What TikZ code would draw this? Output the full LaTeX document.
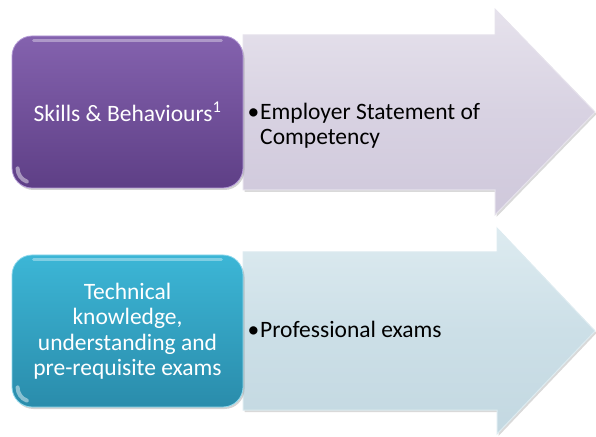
\documentclass[tikz,border=0pt]{standalone}
\usepackage{fontspec}
\setmainfont{Carlito}
\usetikzlibrary{shadows}
\definecolor{purpTop}{HTML}{8462AE}
\definecolor{purpBot}{HTML}{5E3F86}
\definecolor{purpHi}{HTML}{B39AD6}
\definecolor{tealTop}{HTML}{3CB6D6}
\definecolor{tealBot}{HTML}{2A8CAB}
\definecolor{tealHi}{HTML}{8FD8EC}
\definecolor{arrA}{HTML}{D8D2E2}
\definecolor{arrAb}{HTML}{CFC8DB}
\definecolor{arrAe}{HTML}{E6E2EC}
\definecolor{arrB}{HTML}{CCDFE7}
\definecolor{arrBb}{HTML}{C3D8E1}
\definecolor{arrBe}{HTML}{DDEBF0}
\tikzset{
  boxP/.style={rounded corners=20pt, top color=purpTop, bottom color=purpBot, draw=purpHi, line width=0.8pt,
    drop shadow={shadow xshift=1.5pt, shadow yshift=-2pt, opacity=0.35}},
  boxT/.style={rounded corners=20pt, top color=tealTop, bottom color=tealBot, draw=tealHi, line width=0.8pt,
    drop shadow={shadow xshift=1.5pt, shadow yshift=-2pt, opacity=0.35}},
  arrP/.style={top color=arrAe, bottom color=arrAb, middle color=arrA, draw=arrAe, line width=1pt,
    drop shadow={shadow xshift=1.5pt, shadow yshift=-2pt, opacity=0.3}},
  arrT/.style={top color=arrBe, bottom color=arrBb, middle color=arrB, draw=arrBe, line width=1pt,
    drop shadow={shadow xshift=1.5pt, shadow yshift=-2pt, opacity=0.3}},
  boxtext/.style={text=white, align=center, font=\fontsize{23.5}{25.5}\selectfont},
  bullettext/.style={text=black, align=left, anchor=base west, font=\fontsize{23.5}{25}\selectfont},
  gloss/.style={white, opacity=0.35, line width=3pt, line cap=round},
  spot/.style={white, opacity=0.45, line width=4pt, line cap=round},
}
\begin{document}
\begin{tikzpicture}[x=1pt,y=1pt]
\useasboundingbox (0,0) rectangle (596,436);
% top arrow
\path[arrP] (243,401) -- (495,401) -- (495,427) -- (595,324) -- (495,221) -- (495,246) -- (243,246) -- cycle;
% bottom arrow
\path[arrT] (243,184) -- (497,184) -- (497,208) -- (595,105) -- (497,2) -- (497,26) -- (243,26) -- cycle;
% boxes
\node[boxP, minimum width=231pt, minimum height=152pt, inner sep=0pt] (sk) at (127.5,324) {};
\node[boxT, minimum width=231pt, minimum height=152pt, inner sep=0pt] (tk) at (127.5,105) {};
% gloss
\draw[gloss] ([xshift=22pt,yshift=-5pt]sk.north west) -- ([xshift=-22pt,yshift=-5pt]sk.north east);
\draw[gloss] ([xshift=22pt,yshift=-5pt]tk.north west) -- ([xshift=-22pt,yshift=-5pt]tk.north east);
\draw[spot] ([xshift=6pt,yshift=20pt]sk.south west) arc (180:250:14pt);
\draw[spot] ([xshift=6pt,yshift=20pt]tk.south west) arc (180:250:14pt);
% texts
\node[boxtext] (skt) at (sk.center) {Skills \& Behaviours\textsuperscript{1}};
\node[boxtext] (tkt) at (tk.center) {Technical\\knowledge,\\understanding and\\pre-requisite exams};
\node[bullettext] (b1) at (244,316.5) {•\hspace{1pt}\begin{tabular}[t]{@{}l@{}}Employer Statement of\\Competency\end{tabular}};
\node[bullettext] (b2) at (244,98.5) {•\hspace{1pt}Professional exams};
\end{tikzpicture}
\end{document}
